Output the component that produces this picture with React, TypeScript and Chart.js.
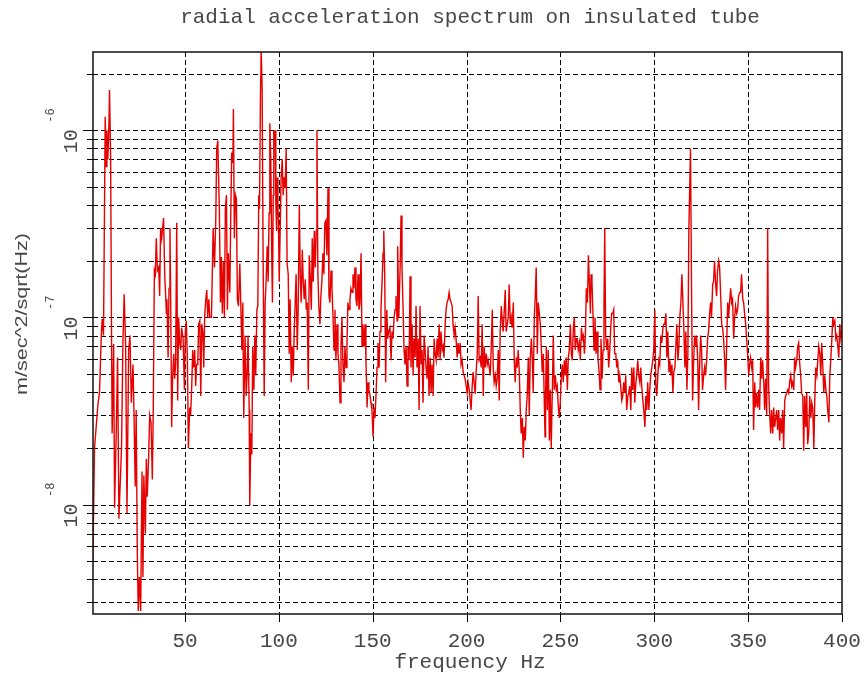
import { useEffect, useRef } from 'react';
import { Chart, registerables } from 'chart.js';

Chart.register(...registerables);

const TITLE = 'radial acceleration spectrum on insulated tube';
const X_TITLE = 'frequency Hz';
const Y_TITLE = 'm/sec^2/sqrt(Hz)';

const X_MIN = 1;
const X_MAX = 400;
const Y_MIN = 2.6e-9;
const Y_MAX = 2.62e-6;

const X_TICKS = [50, 100, 150, 200, 250, 300, 350, 400];
const Y_MAJOR = [1e-8, 1e-7, 1e-6];
const Y_MAJOR_EXP = ['-8', '-7', '-6'];
const Y_GRID = [
  3e-9, 4e-9, 5e-9, 6e-9, 7e-9, 8e-9, 9e-9,
  1e-8, 2e-8, 3e-8, 4e-8, 5e-8, 6e-8, 7e-8, 8e-8, 9e-8,
  1e-7, 2e-7, 3e-7, 4e-7, 5e-7, 6e-7, 7e-7, 8e-7, 9e-7,
  1e-6, 2e-6,
];

// 0 - 79 Hz
const freqA = [0.9,1.8,3.6,4.5,5.4,5.9,6.6,7.5,8.0,8.4,8.9,9.5,9.8,10.4,10.9,11.2,12.0,12.5,13.4,14.1,14.8,15.5,16.2,16.9,17.6,18.4,19.1,20.0,20.7,21.4,22.3,22.8,23.5,24.0,24.6,25.1,25.7,26.4,27.1,27.6,28.1,28.9,29.4,29.9,30.6,31.2,31.9,32.6,33.1,33.7,34.2,34.7,35.3,36.0,36.5,37.0,37.6,38.1,38.6,39.2,39.7,40.1,40.4,41.0,41.5,42.0,42.4,42.9,43.4,44.0,44.5,45.0,45.6,46.1,46.6,47.2,47.7,48.2,49.0,49.7,50.2,50.7,51.3,51.8,52.5,53.0,53.6,54.1,54.6,55.2,55.7,56.2,56.8,57.3,57.9,58.4,58.9,59.5,60.0,60.5,61.1,61.6,62.1,62.7,63.2,64.1,65.0,65.7,66.4,66.9,67.5,67.8,68.3,68.9,69.4,69.9,70.5,71.0,71.5,72.1,72.6,73.1,73.9,74.4,74.9,75.5,75.8,76.3,76.9,77.4,77.9,78.5];
const ampA = [4.9e-9,2.0e-8,3.4e-8,4.0e-8,8.0e-8,9.8e-8,8.0e-8,1.18e-6,6.4e-7,1.0e-6,
  7.0e-7,1.09e-6,1.64e-6,7.0e-7,7.0e-8,2.4e-8,7.2e-8,9.6e-9,2.5e-8,6.1e-8,
  8.4e-9,1.3e-8,2.0e-8,7.0e-8,1.33e-7,7.0e-8,9.0e-9,6.7e-8,8.0e-8,3.5e-8,
  5.6e-8,3.2e-8,1.25e-8,3.2e-8,5.4e-9,2.7e-9,4.1e-9,2.7e-9,1.5e-8,4.1e-9,
  1.43e-8,7.0e-9,1.75e-8,1.1e-8,1.75e-8,3.0e-8,2.75e-8,1.36e-8,3.2e-8,1.78e-7,
  1.7e-7,2.65e-7,1.78e-7,1.85e-7,1.3e-7,3.0e-7,2.65e-7,3.0e-7,3.4e-7,1.7e-7,
  1.3e-7,1.05e-7,1.25e-7,6.1e-8,1.43e-7,3.0e-7,1.2e-7,2.6e-8,4.7e-8,6.4e-8,
  4.7e-8,5.6e-8,3.2e-7,3.6e-8,1.0e-7,7.3e-8,6.7e-8,8.8e-8,7.7e-8,4.1e-8,
  8.4e-8,9.6e-8,5.9e-8,2.0e-8,3.3e-8,3.0e-8,4.3e-8,6.7e-8,5.4e-8,6.7e-8,
  4.3e-8,5.6e-8,5.6e-8,9.2e-8,9.6e-8,3.8e-8,9.2e-8,8.4e-8,5.4e-8,1.02e-7,
  1.25e-7,1.4e-7,1.0e-7,1.25e-7,1.0e-7,1.0e-7,3.0e-7,1.85e-7,3.3e-7,8.0e-7,
  8.8e-7,6.2e-7,3.8e-7,1.2e-7,2.1e-7,1.05e-7,2.0e-7,1.0e-7,3.8e-7,4.5e-7,
  1.1e-7,2.2e-7,1.36e-7,3.6e-7,7.6e-7,6.7e-7,1.3e-6,2.65e-7,4.5e-7,4.3e-7,
  1.25e-7,1.15e-7];

// 79 - 159 Hz
const freqB = [79.2,79.7,80.3,80.8,81.3,82.0,82.6,83.1,83.6,84.2,84.5,85.1,85.6,86.1,86.7,87.2,87.7,88.3,88.8,89.3,89.7,90.2,90.6,91.1,91.6,92.2,92.7,93.2,93.8,94.3,94.8,95.2,95.7,96.3,96.6,97.0,97.3,97.7,98.0,98.4,98.8,99.1,99.5,99.8,100.2,
  100.7,101.2,101.8,102.3,102.8,103.4,103.9,104.4,105.0,105.5,106.0,106.6,107.1,107.7,108.2,108.7,109.2,109.8,110.3,110.9,111.4,111.9,112.5,113.0,113.5,114.1,114.6,115.1,115.7,116.2,116.7,117.3,117.8,118.3,118.9,119.4,119.9,120.3,
  120.8,121.3,121.9,122.4,122.9,123.5,124.0,124.5,125.1,125.6,126.2,126.7,127.2,127.8,128.3,128.8,129.4,129.9,130.4,131.0,131.5,132.0,132.6,133.1,133.6,134.2,134.7,135.2,135.8,136.3,136.8,137.4,137.9,138.4,139.0,139.5,140.0,140.6,141.1,141.6,142.2,142.7,143.2,143.8,144.3,144.8,145.4,145.9,146.4,147.0,147.5,148.0,148.6,149.1,149.6,150.2,150.7,151.2,151.8,152.3,152.8,153.4,153.9,154.4,155.0,155.5,155.9,156.4,156.9,157.5,158.0,158.5];
const ampB = [1.94e-7,1.2e-7,6.7e-8,1.2e-7,2.9e-8,8.0e-8,3.8e-8,4.9e-8,8.0e-8,3.2e-8,
  9.9e-9,2.4e-8,1.85e-8,7.0e-8,4.1e-8,8.0e-8,4.9e-8,1.1e-7,1.15e-7,4.5e-7,
  3.8e-7,1.5e-6,2.7e-6,1.7e-6,2.2e-7,3.8e-8,1.2e-7,1.55e-7,2.4e-7,1.55e-7,
  3.6e-7,1.09e-6,7.0e-7,1.85e-7,1.2e-7,4.5e-7,1.0e-6,9.2e-7,1.0e-6,4.1e-7,
  2.9e-7,5.6e-7,4.0e-7,3.2e-7,1.55e-7,2.9e-7,5.6e-7,7.0e-7,4.5e-7,5.6e-7,
  4.9e-7,8.0e-7,1.94e-7,1.7e-7,6.4e-8,1.25e-7,4.5e-8,7.0e-8,4.9e-8,8.4e-8,
  1.2e-7,1.7e-7,6.7e-8,1.1e-7,4.0e-7,1.7e-7,1.2e-7,2.3e-7,1.55e-7,1.25e-7,
  1.6e-7,1.1e-7,1.2e-7,4.1e-8,2.15e-7,1.7e-7,1.1e-7,2.65e-7,1.55e-7,2.9e-7,
  1.85e-7,2.9e-7,1.0e-6,1.7e-7,1.15e-7,9.2e-8,1.3e-7,1.55e-7,2.2e-7,1.7e-7,
  3.2e-7,3.3e-7,2.15e-7,4.9e-7,1.3e-7,1.2e-7,1.78e-7,1.43e-7,1.05e-7,6.7e-8,
  1.1e-7,5.9e-8,9.2e-8,6.4e-8,5.6e-8,3.5e-8,7.0e-8,1.0e-7,5.4e-8,4.5e-8,
  7.0e-8,5.4e-8,7.3e-8,1.2e-7,1.1e-7,1.25e-7,1.43e-7,1.36e-7,1.7e-7,1.43e-7,
  1.85e-7,1.25e-7,1.15e-7,1.7e-7,1.1e-7,1.2e-7,2.2e-7,7.0e-8,9.2e-8,7.0e-8,
  9.2e-8,5.9e-8,3.3e-8,4.5e-8,4.1e-8,3.8e-8,3.5e-8,3.2e-8,2.3e-8,3.3e-8,
  2.9e-8,3.95e-8,5.4e-8,7.3e-8,5.4e-8,8.4e-8,1.1e-7,1.55e-7,2.2e-7,2.9e-7,
  1.7e-7,4.5e-8,1.1e-7,7.7e-8,8.4e-8];

// 159 - 239 Hz
const freqC = [159.2,159.8,160.3,160.8,161.4,161.9,162.4,163.0,163.3,163.9,164.6,165.1,165.6,166.2,166.7,167.2,167.8,168.3,168.8,169.4,169.9,170.4,171.0,171.5,172.0,172.6,173.1,173.6,174.2,174.7,175.2,175.8,176.3,176.8,177.4,177.9,178.4,179.0,179.5,180.0,180.6,181.1,181.6,182.2,182.7,183.2,183.8,184.3,184.8,185.4,185.9,186.4,187.0,187.5,188.0,188.6,189.1,189.6,190.2,190.7,191.2,191.8,192.3,192.8,193.4,193.9,194.4,195.0,195.5,196.0,196.6,197.1,197.6,198.2,198.7,199.2,199.8,200.3,200.8,201.4,201.9,202.4,203.0,203.5,204.0,204.6,205.1,205.7,206.2,206.7,207.3,207.8,208.3,208.9,209.4,209.9,210.5,211.0,211.5,212.1,212.6,213.1,213.7,214.2,214.7,215.3,215.8,216.3,216.9,217.4,217.9,218.5,219.0,219.5,220.1,220.6,221.1,221.7,222.2,222.7,223.3,223.8,224.3,224.9,225.4,225.9,226.5,227.0,227.5,228.1,228.6,229.1,229.7,230.2,230.7,231.3,231.8,232.3,232.9,233.4,233.9,234.5,235.0,235.5,236.1,236.6,237.1,237.7,238.2];
const ampC = [8.8e-8,5.9e-8,8.4e-8,7.7e-8,1.0e-7,1.1e-7,1.3e-7,9.6e-8,2.4e-7,1.0e-7,
  1.85e-7,3.5e-7,1.85e-7,1.1e-7,6.7e-8,5.6e-8,7.0e-8,4.3e-8,7.0e-8,5.9e-8,
  1.66e-7,5.4e-8,9.2e-8,4.9e-8,7.7e-8,6.1e-8,1.15e-7,5.4e-8,7.7e-8,3.2e-8,
  1.15e-7,5.6e-8,6.7e-8,3.5e-8,8.0e-8,6.7e-8,5.4e-8,4.7e-8,7.0e-8,3.8e-8,
  6.1e-8,3.95e-8,5.6e-8,3.8e-8,7.7e-8,6.4e-8,5.9e-8,7.7e-8,6.1e-8,9.2e-8,
  5.9e-8,8.4e-8,6.7e-8,7.0e-8,6.1e-8,9.2e-8,1.1e-7,1.2e-7,1.25e-7,1.36e-7,
  1.25e-7,1.2e-7,1.15e-7,9.2e-8,8.0e-8,8.8e-8,7.7e-8,6.1e-8,7.3e-8,6.4e-8,
  7.3e-8,5.6e-8,5.9e-8,5.1e-8,4.9e-8,4.7e-8,4.3e-8,3.95e-8,4.5e-8,4.1e-8,
  3.6e-8,3.2e-8,4.3e-8,5.1e-8,4.5e-8,3.9e-8,5.1e-8,6.4e-8,1.3e-7,5.9e-8,
  6.1e-8,5.4e-8,9.2e-8,3.8e-8,7.0e-8,5.4e-8,6.4e-8,5.6e-8,5.9e-8,5.4e-8,
  4.9e-8,6.7e-8,1.1e-7,5.4e-8,4.5e-8,4.9e-8,4.3e-8,4.7e-8,6.7e-8,3.6e-8,
  8.4e-8,1.15e-7,9.6e-8,8.4e-8,1.1e-7,1.4e-7,8.4e-8,9.2e-8,1.0e-7,1.5e-7,
  9.2e-8,1.0e-7,8.8e-8,1.2e-7,5.9e-8,4.5e-8,6.1e-8,5.4e-8,6.7e-8,5.1e-8,
  3.2e-8,2.4e-8,2.9e-8,1.78e-8,2.6e-8,2.2e-8,3.2e-8,3.8e-8,6.1e-8,3.0e-8,
  5.9e-8,7.7e-8,6.1e-8,3.95e-8,1.0e-7,1.3e-7,1.85e-7,6.4e-8,1.2e-7];

// 239 - 319 Hz
const freqD = [239.3,239.8,240.3,240.9,241.4,241.8,242.1,242.5,243.0,243.5,244.1,244.6,245.1,245.7,246.2,246.7,247.3,247.8,248.3,248.9,249.4,249.9,250.5,251.0,251.5,252.1,252.6,253.1,253.7,254.2,254.7,255.3,255.8,256.3,256.9,257.4,257.9,258.5,259.0,259.5,260.1,260.6,261.2,261.7,262.2,262.8,263.3,263.8,264.4,264.9,265.4,266.0,266.3,266.8,267.4,267.9,268.4,269.0,269.5,270.0,270.6,271.1,271.6,272.2,272.7,273.2,273.6,274.1,274.7,275.2,275.7,276.3,276.8,277.3,277.9,278.4,278.9,279.5,280.0,280.5,281.1,281.6,282.1,282.7,283.2,283.7,284.3,284.8,285.3,285.9,286.4,286.9,287.5,288.0,288.5,289.1,289.6,290.1,290.7,291.2,291.7,292.3,292.8,293.3,293.9,294.4,295.0,295.5,296.0,296.5,297.1,297.6,298.1,298.7,299.2,299.7,300.3,300.8,301.3,301.9,302.4,302.9,303.5,304.0,304.6,305.1,305.6,306.2,306.7,307.2,307.8,308.3,308.8,309.4,309.9,310.4,311.0,311.5,312.0,312.6,313.1,313.6,314.2,314.7,315.2,315.8,316.3,316.8,317.4,317.9,318.4];
const ampD = [9.2e-8,7.0e-8,5.1e-8,6.4e-8,3.6e-8,2.3e-8,3.8e-8,7.0e-8,3.2e-8,6.7e-8,
  2.2e-8,4.1e-8,2.0e-8,4.1e-8,8.0e-8,4.1e-8,4.9e-8,4.1e-8,4.3e-8,3.3e-8,
  2.9e-8,3.5e-8,4.9e-8,5.6e-8,4.5e-8,5.9e-8,4.9e-8,6.1e-8,4.1e-8,6.1e-8,
  6.7e-8,9.2e-8,6.4e-8,5.9e-8,8.8e-8,1.0e-7,6.7e-8,7.7e-8,7.7e-8,6.7e-8,
  7.3e-8,5.9e-8,8.8e-8,7.7e-8,8.0e-8,6.4e-8,8.0e-8,1.43e-7,1.2e-7,2.15e-7,
  1.55e-7,1.05e-7,1.7e-7,1.55e-7,1.0e-7,6.7e-8,1.0e-7,6.4e-8,8.4e-8,6.1e-8,
  5.1e-8,4.1e-8,7.7e-8,4.7e-8,6.7e-8,1.15e-7,3.0e-7,8.0e-8,6.7e-8,7.7e-8,
  5.4e-8,6.7e-8,8.8e-8,1.05e-7,1.05e-7,1.1e-7,6.4e-8,6.4e-8,5.4e-8,5.9e-8,
  4.5e-8,4.9e-8,4.3e-8,3.6e-8,3.8e-8,4.5e-8,3.95e-8,4.9e-8,3.2e-8,3.8e-8,
  3.95e-8,4.3e-8,3.2e-8,5.4e-8,4.1e-8,5.4e-8,3.5e-8,4.3e-8,5.1e-8,5.9e-8,
  4.9e-8,4.5e-8,5.4e-8,4.3e-8,3.6e-8,3.2e-8,2.6e-8,3.8e-8,3.2e-8,4.5e-8,
  3.2e-8,4.1e-8,4.9e-8,5.4e-8,5.9e-8,6.7e-8,1.1e-7,4.3e-8,3.8e-8,4.9e-8,
  5.9e-8,5.6e-8,8.0e-8,7.3e-8,8.8e-8,9.2e-8,9.2e-8,1.05e-7,6.1e-8,8.4e-8,
  5.1e-8,5.9e-8,4.9e-8,5.6e-8,3.95e-8,5.1e-8,5.4e-8,7.0e-8,9.2e-8,5.9e-8,
  7.0e-8,1.0e-7,1.2e-7,1.7e-7,1.25e-7,8.4e-8,5.4e-8,8.4e-8,4.1e-8,6.4e-8,
  2.9e-7];

// 319 - 400 Hz
const freqE = [319.3,319.9,320.4,320.9,321.5,322.0,322.5,323.1,323.6,324.1,324.7,325.2,325.7,326.3,326.8,327.3,327.9,328.4,328.9,329.5,330.0,330.5,331.1,331.6,332.1,332.7,333.2,333.7,334.3,334.8,335.3,335.9,336.4,336.9,337.5,338.0,338.5,339.1,339.6,340.1,340.7,341.2,341.7,342.3,342.8,343.3,343.9,344.4,344.9,345.5,346.0,346.5,347.1,347.6,348.1,348.7,349.2,349.7,350.3,350.8,351.3,351.9,352.4,352.9,353.5,354.0,354.5,355.1,355.6,356.1,356.7,357.2,357.7,358.3,358.8,359.3,359.9,360.4,360.9,361.5,362.0,362.5,363.1,363.6,364.1,364.7,365.2,365.7,366.3,366.8,367.3,367.9,368.4,368.9,369.5,370.0,370.5,371.1,371.6,372.1,372.7,373.2,373.7,374.3,374.8,375.3,375.9,376.4,376.9,377.5,378.0,378.5,379.1,379.6,380.1,380.7,381.2,381.7,382.3,382.8,383.4,383.9,384.4,385.0,385.5,386.0,386.6,387.1,387.6,388.2,388.7,389.2,389.8,390.3,390.8,391.4,391.9,392.4,393.0,393.5,394.0,394.6,395.1,395.6,396.2,396.7,397.2,397.8,398.3,398.8,399.4,399.9,400.4];
const ampE = [8.0e-7,1.2e-7,3.6e-8,5.6e-8,8.0e-8,7.0e-8,8.0e-8,6.1e-8,3.2e-8,5.4e-8,
  8.0e-8,6.7e-8,4.1e-8,4.9e-8,5.4e-8,4.9e-8,5.9e-8,7.7e-8,8.4e-8,1.05e-7,
  1.2e-7,1.0e-7,1.5e-7,1.55e-7,2.0e-7,1.5e-7,1.3e-7,1.78e-7,2.0e-7,1.85e-7,
  1.36e-7,9.2e-8,8.8e-8,7.7e-8,5.9e-8,4.1e-8,6.7e-8,1.2e-7,1.0e-7,1.2e-7,
  1.43e-7,1.2e-7,1.25e-7,7.7e-8,1.0e-7,1.15e-7,1.05e-7,1.1e-7,1.3e-7,1.36e-7,
  1.36e-7,1.7e-7,1.25e-7,1.2e-7,1.05e-7,9.2e-8,7.7e-8,6.4e-8,4.9e-8,5.6e-8,
  6.1e-8,5.4e-8,5.9e-8,2.5e-8,4.5e-8,3.3e-8,3.95e-8,3.3e-8,4.1e-8,3.2e-8,
  6.1e-8,4.7e-8,5.9e-8,4.5e-8,3.2e-8,4.7e-8,3.0e-8,3.0e-7,4.3e-8,3.0e-8,
  2.4e-8,3.2e-8,2.4e-8,3.3e-8,2.6e-8,2.9e-8,3.2e-8,2.5e-8,3.2e-8,2.2e-8,
  2.9e-8,2.4e-8,3.2e-8,2.0e-8,3.6e-8,3.8e-8,3.95e-8,4.1e-8,3.95e-8,4.5e-8,
  4.9e-8,4.3e-8,4.5e-8,4.1e-8,6.1e-8,5.4e-8,5.9e-8,7.0e-8,7.3e-8,5.6e-8,
  4.9e-8,3.95e-8,3.8e-8,1.94e-8,3.8e-8,2.6e-8,3.95e-8,2.1e-8,2.4e-8,3.8e-8,
  2.9e-8,3.5e-8,3.3e-8,2.0e-8,3.6e-8,5.4e-8,4.9e-8,5.9e-8,7.0e-8,6.4e-8,
  4.9e-8,7.3e-8,5.4e-8,3.95e-8,4.9e-8,4.1e-8,3.8e-8,3.2e-8,2.75e-8,4.9e-8,
  5.9e-8,7.7e-8,1.0e-7,9.2e-8,9.6e-8,7.7e-8,8.0e-8,7.0e-8,6.1e-8,9.2e-8,
  7.7e-8,8.4e-8,1.05e-7];

const FREQS = [freqA, freqB, freqC, freqD, freqE];
const AMPS = [ampA, ampB, ampC, ampD, ampE];

const MONO = '"Liberation Mono", "Courier New", monospace';
const SANS = '"Liberation Sans", Arial, sans-serif';
const TEXT_COLOR = '#474747';

const framePlugin = {
  id: 'framePlugin',
  beforeDatasetsDraw(chart: any) {
    const { ctx, chartArea: a, scales } = chart;
    const x = scales.x;
    const y = scales.y;
    ctx.save();
    ctx.strokeStyle = '#000';
    ctx.lineWidth = 1;
    ctx.setLineDash([5, 3]);
    ctx.beginPath();
    for (const v of X_TICKS) {
      if (v >= X_MAX) continue;
      const px = Math.round(x.getPixelForValue(v)) + 0.5;
      ctx.moveTo(px, a.top);
      ctx.lineTo(px, a.bottom);
    }
    for (const v of Y_GRID) {
      const py = Math.round(y.getPixelForValue(v)) + 0.5;
      ctx.moveTo(a.left, py);
      ctx.lineTo(a.right, py);
    }
    ctx.stroke();
    ctx.restore();
  },
  afterDatasetsDraw(chart: any) {
    const { ctx, chartArea: a, scales } = chart;
    const x = scales.x;
    const y = scales.y;
    ctx.save();
    ctx.setLineDash([]);
    // ticks
    ctx.strokeStyle = '#000';
    ctx.lineWidth = 1;
    ctx.beginPath();
    for (const v of X_TICKS) {
      const px = Math.round(x.getPixelForValue(v)) + 0.5;
      ctx.moveTo(px, a.bottom);
      ctx.lineTo(px, a.bottom + 8);
    }
    for (const v of Y_GRID) {
      const py = Math.round(y.getPixelForValue(v)) + 0.5;
      const major = Y_MAJOR.some((m) => Math.abs(m - v) / m < 1e-6);
      ctx.moveTo(a.left - (major ? 10 : 6), py);
      ctx.lineTo(a.left, py);
    }
    ctx.stroke();
    // frame
    ctx.lineWidth = 1.5;
    ctx.strokeStyle = '#111';
    ctx.strokeRect(a.left, a.top, a.right - a.left, a.bottom - a.top);

    // x tick labels
    ctx.fillStyle = TEXT_COLOR;
    ctx.font = '21px ' + MONO;
    ctx.textAlign = 'center';
    ctx.textBaseline = 'alphabetic';
    for (const v of X_TICKS) {
      ctx.fillText(String(v), x.getPixelForValue(v), 647);
    }
    // x title
    ctx.fillText(X_TITLE, 470, 668);
    // main title
    ctx.fillText(TITLE, 470, 23);

    // y tick labels (rotated 10 with superscript exponent)
    Y_MAJOR.forEach((v, i) => {
      const py = y.getPixelForValue(v);
      ctx.save();
      ctx.translate(77, py);
      ctx.rotate(-Math.PI / 2);
      ctx.font = '20px ' + MONO;
      ctx.textAlign = 'right';
      ctx.fillText('10', 1, 0);
      ctx.font = '12px ' + MONO;
      ctx.textAlign = 'left';
      ctx.fillText(Y_MAJOR_EXP[i], 7.5, -23);
      ctx.restore();
    });

    // y title
    ctx.save();
    ctx.translate(27, 314);
    ctx.rotate(-Math.PI / 2);
    ctx.font = '17px ' + SANS;
    ctx.textAlign = 'center';
    const w = ctx.measureText(Y_TITLE).width;
    ctx.scale(162 / w, 1);
    ctx.fillText(Y_TITLE, 0, 0);
    ctx.restore();

    ctx.restore();
  },
};

export default function App() {
  const ref = useRef<HTMLCanvasElement | null>(null);
  useEffect(() => {
    if (!ref.current) return;
    const points: { x: number; y: number }[] = [];
    FREQS.forEach((fs, s) => {
      fs.forEach((f, i) => points.push({ x: f, y: AMPS[s][i] }));
    });
    const chart = new Chart(ref.current, {
      type: 'line',
      data: {
        datasets: [
          {
            data: points,
            borderColor: '#e60000',
            borderWidth: 1.4,
            pointRadius: 0,
            tension: 0,
            fill: false,
          },
        ],
      },
      options: {
        responsive: false,
        maintainAspectRatio: false,
        animation: false,
        layout: { padding: { left: 93, right: 24, top: 52, bottom: 67 } },
        scales: {
          x: { type: 'linear', display: false, min: X_MIN, max: X_MAX },
          y: { type: 'logarithmic', display: false, min: Y_MIN, max: Y_MAX },
        },
        plugins: { legend: { display: false }, tooltip: { enabled: false }, title: { display: false } },
      },
      plugins: [framePlugin],
    });
    return () => chart.destroy();
  }, []);
  return (
    <div style={{ position: 'absolute', left: 0, top: 0, width: 866, height: 681, background: '#fff' }}>
      <canvas ref={ref} width={866} height={681} style={{ display: 'block', width: 866, height: 681 }} />
    </div>
  );
}
